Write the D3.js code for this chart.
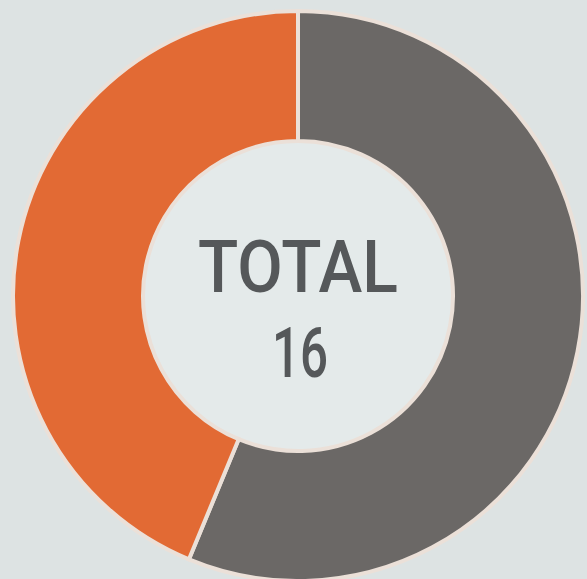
<!DOCTYPE html>
<html>
<head>
<meta charset="utf-8">
<script src="https://cdn.jsdelivr.net/npm/d3@7"></script>
<style>
  html, body { margin: 0; padding: 0; background: #dde3e3; }
  svg { display: block; }
</style>
</head>
<body>
<div id="donut-div"></div>
<script>
// chart data
const categories = ['Gris', 'Naranja'];
const values = [9, 7];
const colors = ['#6b6866', '#e26a34'];
const totalLabel = 'TOTAL';

const WIDTH = 587;
const HEIGHT = 579;
const CENTER = { x: 298, y: 296 };
const OUTER_R = 285;
const INNER_R = 155;

const svg = d3.select('#donut-div')
  .append('svg')
  .attr('width', WIDTH)
  .attr('height', HEIGHT);

svg.append('rect')
  .attr('width', WIDTH)
  .attr('height', HEIGHT)
  .attr('fill', '#dde3e3');

const g = svg.append('g')
  .attr('transform', `translate(${CENTER.x},${CENTER.y})`);

// light inner disc
g.append('circle')
  .attr('r', INNER_R)
  .attr('fill', '#e4eaea');

const pie = d3.pie().sort(null).value(d => d);
const arc = d3.arc().innerRadius(INNER_R).outerRadius(OUTER_R);

g.selectAll('path.slice')
  .data(pie(values))
  .join('path')
  .attr('class', 'slice')
  .attr('d', arc)
  .attr('fill', (d, i) => colors[i])
  .attr('stroke', '#ebe0d8')
  .attr('stroke-width', 4);

const total = d3.sum(values);

g.append('text')
  .attr('x', 0)
  .attr('y', -4)
  .attr('text-anchor', 'middle')
  .attr('font-family', 'Roboto, sans-serif')
  .attr('font-weight', 500)
  .attr('font-size', 72)
  .attr('textLength', 200)
  .attr('lengthAdjust', 'spacingAndGlyphs')
  .attr('fill', '#55585a')
  .text(totalLabel);

g.append('text')
  .attr('x', 2)
  .attr('y', 81)
  .attr('text-anchor', 'middle')
  .attr('font-family', 'Roboto, sans-serif')
  .attr('font-weight', 500)
  .attr('font-size', 70)
  .attr('textLength', 56)
  .attr('lengthAdjust', 'spacingAndGlyphs')
  .attr('fill', '#55585a')
  .text(total);
</script>
</body>
</html>
